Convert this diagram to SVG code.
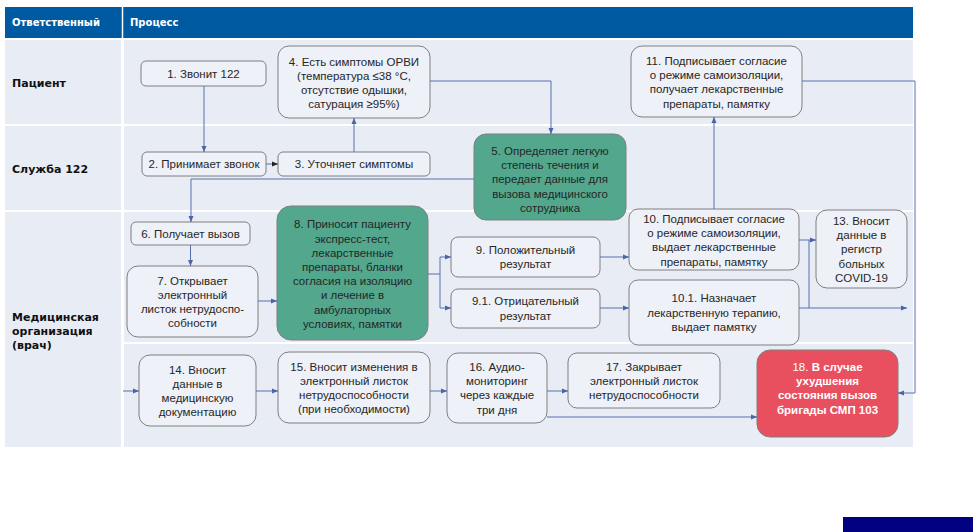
<svg xmlns="http://www.w3.org/2000/svg" width="973" height="532" viewBox="0 0 973 532">
<style>
.lane{fill:#E8ECF5}
.hdr{font-family:"DejaVu Sans",sans-serif;font-weight:bold;font-size:10px;fill:#fff}
.lbl{font-family:"DejaVu Sans",sans-serif;font-weight:bold;font-size:11px;fill:#111}
.n rect{fill:#EEF1F8;stroke:#7F7F7F;stroke-width:1}
.n.g rect{fill:#52A78D}
.n.r rect{fill:#E8505F}
.n text{font-family:"Liberation Sans",Arial,sans-serif;font-size:11.5px;fill:#262626;text-anchor:middle}
.n.r text{fill:#fff;font-weight:bold}
.c path{fill:none;stroke:#5670AE;stroke-width:1}
</style>
<defs>
<marker id="a" markerUnits="userSpaceOnUse" markerWidth="6" markerHeight="6" refX="6" refY="3" orient="auto"><path d="M0,0.5 L6,3 L0,5.5z" fill="#4A64A6"/></marker>
<marker id="ad" markerUnits="userSpaceOnUse" markerWidth="6" markerHeight="6" refX="6" refY="3" orient="auto"><path d="M0,0.5 L6,3 L0,5.5z" fill="#222"/></marker>
</defs>
<rect width="973" height="532" fill="#fff"/>
<g id="lanes">
<rect x="5" y="7" width="908" height="31" fill="#005AA1"/>
<line x1="122.5" y1="7" x2="122.5" y2="38" stroke="#fff" stroke-width="1.5"/>
<text class="hdr" x="12" y="26">Ответственный</text>
<text class="hdr" x="130" y="26">Процесс</text>
<rect class="lane" x="5" y="40" width="116" height="84"/>
<rect class="lane" x="124" y="40" width="789" height="84"/>
<rect class="lane" x="5" y="126" width="116" height="84"/>
<rect class="lane" x="124" y="126" width="789" height="84"/>
<rect class="lane" x="5" y="212" width="116" height="235"/>
<rect class="lane" x="124" y="212" width="789" height="130"/>
<rect class="lane" x="124" y="344" width="789" height="103"/>
<text class="lbl" x="12" y="87">Пациент</text>
<text class="lbl" x="12" y="173">Служба 122</text>
<text class="lbl" x="12" y="321">Медицинская</text>
<text class="lbl" x="12" y="335">организация</text>
<text class="lbl" x="12" y="349">(врач)</text>
</g>
<g id="n1" class="n"><rect x="141" y="61" width="125" height="25" rx="5"/><text x="203.5" y="77.5">1. Звонит 122</text></g>
<g id="n4" class="n"><rect x="278" y="46" width="152" height="72" rx="11"/><text x="354" y="65.5">4. Есть симптомы ОРВИ</text><text x="354" y="79.7">(температура ≤38 °C,</text><text x="354" y="93.9">отсутствие одышки,</text><text x="354" y="108.1">сатурация ≥95%)</text></g>
<g id="n11" class="n"><rect x="631" y="46" width="171" height="71" rx="11"/><text x="716.5" y="65">11. Подписывает согласие</text><text x="716.5" y="79.2">о режиме самоизоляции,</text><text x="716.5" y="93.4">получает лекарственные</text><text x="716.5" y="107.6">препараты, памятку</text></g>
<g id="n2" class="n"><rect x="142" y="152" width="124" height="24" rx="5"/><text x="204" y="168">2. Принимает звонок</text></g>
<g id="n3" class="n"><rect x="278" y="152" width="152" height="24" rx="5"/><text x="354" y="168">3. Уточняет симптомы</text></g>
<g id="n5" class="n g"><rect x="474" y="134" width="152" height="86" rx="12"/><text x="550" y="155">5. Определяет легкую</text><text x="550" y="169.2">степень течения и</text><text x="550" y="183.4">передает данные для</text><text x="550" y="197.6">вызова медицинского</text><text x="550" y="211.8">сотрудника</text></g>
<g id="n6" class="n"><rect x="131" y="222" width="119" height="23" rx="5"/><text x="190.5" y="238">6. Получает вызов</text></g>
<g id="n7" class="n"><rect x="127" y="266" width="131" height="71" rx="11"/><text x="192.5" y="284.5">7. Открывает</text><text x="192.5" y="298.7">электронный</text><text x="192.5" y="312.9">листок нетрудоспо-</text><text x="192.5" y="327.1">собности</text></g>
<g id="n8" class="n g"><rect x="277" y="206" width="151" height="134" rx="14"/><text x="352.5" y="228.3">8. Приносит пациенту</text><text x="352.5" y="242.5">экспресс-тест,</text><text x="352.5" y="256.7">лекарственные</text><text x="352.5" y="270.9">препараты, бланки</text><text x="352.5" y="285.1">согласия на изоляцию</text><text x="352.5" y="299.3">и лечение в</text><text x="352.5" y="313.5">амбулаторных</text><text x="352.5" y="327.7">условиях, памятки</text></g>
<g id="n9" class="n"><rect x="451" y="237" width="149" height="40" rx="7"/><text x="525.5" y="254">9. Положительный</text><text x="525.5" y="268.2">результат</text></g>
<g id="n91" class="n"><rect x="451" y="289" width="149" height="39" rx="7"/><text x="525.5" y="305.4">9.1. Отрицательный</text><text x="525.5" y="319.6">результат</text></g>
<g id="n10" class="n"><rect x="629" y="209" width="170" height="61" rx="9"/><text x="714" y="223">10. Подписывает согласие</text><text x="714" y="237.2">о режиме самоизоляции,</text><text x="714" y="251.4">выдает лекарственные</text><text x="714" y="265.6">препараты, памятку</text></g>
<g id="n101" class="n"><rect x="629" y="280" width="170" height="65" rx="9"/><text x="714" y="302.3">10.1. Назначает</text><text x="714" y="316.5">лекарственную терапию,</text><text x="714" y="330.7">выдает памятку</text></g>
<g id="n13" class="n"><rect x="816" y="210" width="91" height="78" rx="11"/><text x="861.5" y="225">13. Вносит</text><text x="861.5" y="239.2">данные в</text><text x="861.5" y="253.4">регистр</text><text x="861.5" y="267.6">больных</text><text x="861.5" y="281.8">COVID-19</text></g>
<g id="n14" class="n"><rect x="139" y="355" width="117" height="71" rx="11"/><text x="197.5" y="373.5">14. Вносит</text><text x="197.5" y="387.7">данные в</text><text x="197.5" y="401.9">медицинскую</text><text x="197.5" y="416.1">документацию</text></g>
<g id="n15" class="n"><rect x="278" y="352" width="152" height="71" rx="11"/><text x="354" y="370.5">15. Вносит изменения в</text><text x="354" y="384.7">электронный листок</text><text x="354" y="398.9">нетрудоспособности</text><text x="354" y="413.1">(при необходимости)</text></g>
<g id="n16" class="n"><rect x="447" y="353" width="100" height="70" rx="11"/><text x="497" y="371">16. Аудио-</text><text x="497" y="385.2">мониторинг</text><text x="497" y="399.4">через каждые</text><text x="497" y="413.6">три дня</text></g>
<g id="n17" class="n"><rect x="568" y="353" width="152" height="55" rx="9"/><text x="644" y="370.5">17. Закрывает</text><text x="644" y="384.7">электронный листок</text><text x="644" y="398.9">нетрудоспособности</text></g>
<g id="n18" class="n r"><rect x="757" y="350" width="141" height="87" rx="13"/><text x="827.5" y="371"><tspan font-weight="normal">18. </tspan>В случае</text><text x="827.5" y="385.2">ухудшения</text><text x="827.5" y="399.4">состояния вызов</text><text x="827.5" y="413.6">бригады СМП 103</text></g>
<g id="connectors" class="c">
<path d="M204,86 V152" marker-end="url(#a)"/>
<path d="M266,164 H278" marker-end="url(#ad)"/>
<path d="M354,152 V118" marker-end="url(#a)"/>
<path d="M430,81 H551 V134" marker-end="url(#a)"/>
<path d="M474,179 H191 V222" marker-end="url(#a)"/>
<path d="M190.5,245 V266" marker-end="url(#a)"/>
<path d="M258,301 H277" marker-end="url(#a)"/>
<path d="M428,274 H440"/>
<path d="M440,257 V308"/>
<path d="M440,257 H451" marker-end="url(#a)"/>
<path d="M440,308 H451" marker-end="url(#a)"/>
<path d="M600,257 H629" marker-end="url(#a)"/>
<path d="M600,308 H629" marker-end="url(#a)"/>
<path d="M714,209 V117" marker-end="url(#a)"/>
<path d="M799,240 H816" marker-end="url(#a)"/>
<path d="M809,240 V308"/>
<path d="M799,308 H907" marker-end="url(#a)"/>
<path d="M802,81 H915 V393 H898" marker-end="url(#a)"/>
<path d="M123,391 H139" marker-end="url(#a)"/>
<path d="M256,391 H278" marker-end="url(#a)"/>
<path d="M430,391 H447" marker-end="url(#a)"/>
<path d="M547,391 H568" marker-end="url(#a)"/>
<path d="M547,417 H757" marker-end="url(#a)"/>
</g>
<rect x="843" y="517" width="130" height="15" fill="#000080"/>
</svg>
